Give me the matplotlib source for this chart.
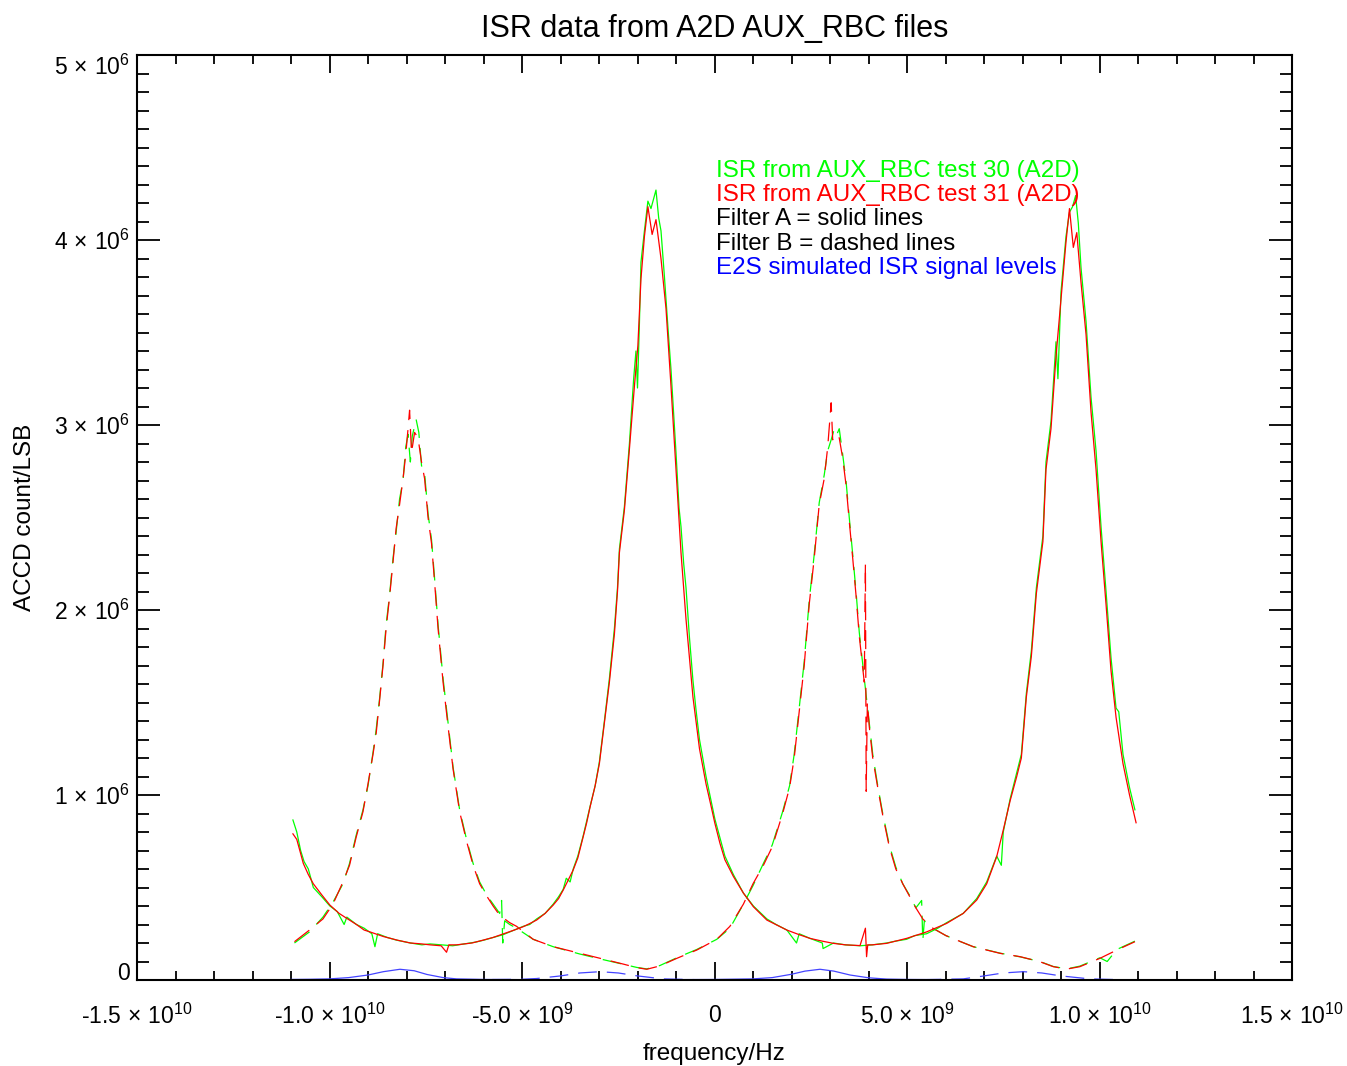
import numpy as np
import matplotlib
matplotlib.use('Agg')
import matplotlib.pyplot as plt
from matplotlib.ticker import MultipleLocator, FixedLocator

plt.rcParams['font.family'] = ['Liberation Sans', 'DejaVu Sans']
plt.rcParams['mathtext.fontset'] = 'custom'
plt.rcParams['mathtext.rm'] = 'Liberation Sans'
plt.rcParams['mathtext.it'] = 'Liberation Sans:italic'
plt.rcParams['mathtext.bf'] = 'Liberation Sans:bold'

# values: (frequency / 1e9 Hz, count / 1e6 LSB)
# Filter A (solid), test 31 (red)
filt_a_test31 = [
    (-10.95, 0.79), (-10.85, 0.76), (-10.68, 0.63), (-10.55, 0.57), (-10.42, 0.52),
    (-10.2, 0.46), (-9.99, 0.405), (-9.75, 0.36), (-9.55, 0.333), (-9.3, 0.30),
    (-9.1, 0.27), (-8.95, 0.26), (-8.6, 0.235), (-8.25, 0.216), (-7.9, 0.20),
    (-7.6, 0.195), (-7.39, 0.19), (-7.1, 0.185), (-6.96, 0.15), (-6.9, 0.19),
    (-6.7, 0.19), (-6.3, 0.20), (-6.0, 0.216), (-5.75, 0.23), (-5.49, 0.249),
    (-5.2, 0.27), (-4.97, 0.288), (-4.8, 0.305), (-4.62, 0.324), (-4.4, 0.36),
    (-4.19, 0.405), (-4.05, 0.44), (-3.93, 0.486), (-3.8, 0.54), (-3.67, 0.595),
    (-3.55, 0.66), (-3.41, 0.775), (-3.32, 0.85), (-3.23, 0.937), (-3.1, 1.05),
    (-2.99, 1.17), (-2.86, 1.39), (-2.73, 1.61), (-2.60, 1.87), (-2.52, 2.10),
    (-2.47, 2.31), (-2.34, 2.54), (-2.21, 2.87), (-2.08, 3.21), (-1.99, 3.43),
    (-1.91, 3.79), (-1.82, 4.02), (-1.73, 4.18), (-1.62, 4.03), (-1.52, 4.11),
    (-1.39, 3.90), (-1.26, 3.63), (-1.13, 3.21), (-1.0, 2.76), (-0.87, 2.31),
    (-0.74, 1.95), (-0.56, 1.53), (-0.39, 1.25), (-0.22, 1.06), (-0.1, 0.95),
    (0.01, 0.847), (0.14, 0.74), (0.27, 0.65), (0.49, 0.56), (0.75, 0.47),
    (1.01, 0.396), (1.36, 0.324), (1.88, 0.27), (2.2, 0.245), (2.48, 0.225),
    (2.8, 0.21), (3.09, 0.198), (3.4, 0.19), (3.78, 0.186), (3.92, 0.28),
    (3.95, 0.126), (3.98, 0.19), (4.1, 0.19), (4.47, 0.198), (4.99, 0.225),
    (5.51, 0.26), (6.03, 0.306), (6.46, 0.36), (6.81, 0.432), (7.07, 0.52),
    (7.33, 0.667), (7.50, 0.81), (7.68, 0.97), (7.85, 1.10), (7.97, 1.20),
    (8.10, 1.53), (8.23, 1.75), (8.36, 2.09), (8.53, 2.37), (8.61, 2.76),
    (8.74, 2.98), (8.87, 3.37), (9.0, 3.68), (9.13, 3.99), (9.22, 4.17),
    (9.32, 3.96), (9.41, 4.04), (9.52, 3.77), (9.65, 3.49), (9.78, 3.07),
    (9.91, 2.76), (10.04, 2.37), (10.17, 2.03), (10.30, 1.67), (10.43, 1.42),
    (10.61, 1.17), (10.78, 1.00), (10.95, 0.85),
]

# Filter A (solid), test 30 (green)
filt_a_test30 = [
    (-10.95, 0.865), (-10.85, 0.80), (-10.75, 0.70), (-10.66, 0.64), (-10.55, 0.60),
    (-10.42, 0.50), (-10.2, 0.45), (-9.99, 0.40), (-9.8, 0.37), (-9.62, 0.30),
    (-9.55, 0.34), (-9.3, 0.30), (-9.1, 0.28), (-8.9, 0.25), (-8.82, 0.18),
    (-8.75, 0.25), (-8.5, 0.23), (-8.25, 0.215), (-7.9, 0.20), (-7.6, 0.19),
    (-7.39, 0.195), (-7.1, 0.19), (-6.8, 0.185), (-6.5, 0.195), (-6.2, 0.205),
    (-6.0, 0.215), (-5.75, 0.23), (-5.49, 0.245), (-5.2, 0.27), (-4.97, 0.29),
    (-4.8, 0.30), (-4.62, 0.33), (-4.4, 0.36), (-4.19, 0.41), (-4.05, 0.45),
    (-3.93, 0.49), (-3.85, 0.55), (-3.75, 0.53), (-3.67, 0.60), (-3.55, 0.67),
    (-3.41, 0.78), (-3.32, 0.86), (-3.23, 0.94), (-3.1, 1.05), (-2.99, 1.18),
    (-2.86, 1.40), (-2.73, 1.63), (-2.60, 1.90), (-2.52, 2.12), (-2.47, 2.33),
    (-2.34, 2.56), (-2.21, 2.90), (-2.1, 3.25), (-2.04, 3.40), (-2.0, 3.20),
    (-1.95, 3.55), (-1.91, 3.88), (-1.82, 4.05), (-1.73, 4.21), (-1.65, 4.17),
    (-1.52, 4.27), (-1.45, 4.12), (-1.39, 4.05), (-1.30, 3.80), (-1.2, 3.50),
    (-1.13, 3.30), (-1.0, 2.85), (-0.92, 2.55), (-0.87, 2.45), (-0.8, 2.25),
    (-0.74, 2.12), (-0.65, 1.85), (-0.56, 1.62), (-0.48, 1.46), (-0.39, 1.30),
    (-0.22, 1.10), (-0.1, 0.98), (0.01, 0.87), (0.14, 0.77), (0.27, 0.67),
    (0.49, 0.57), (0.75, 0.47), (1.01, 0.40), (1.36, 0.33), (1.6, 0.30),
    (1.88, 0.27), (2.13, 0.20), (2.2, 0.25), (2.48, 0.225), (2.8, 0.20),
    (2.82, 0.17), (3.09, 0.20), (3.4, 0.19), (3.78, 0.185), (4.1, 0.19),
    (4.47, 0.20), (4.7, 0.21), (4.99, 0.22), (5.2, 0.24), (5.51, 0.25),
    (5.8, 0.28), (6.03, 0.31), (6.46, 0.36), (6.81, 0.44), (7.07, 0.53),
    (7.33, 0.67), (7.45, 0.62), (7.50, 0.80), (7.68, 0.98), (7.85, 1.12),
    (7.97, 1.22), (8.10, 1.55), (8.23, 1.78), (8.36, 2.12), (8.53, 2.40),
    (8.61, 2.80), (8.74, 3.02), (8.87, 3.45), (8.92, 3.25), (9.0, 3.72),
    (9.13, 4.02), (9.22, 4.15), (9.30, 4.18), (9.38, 4.24), (9.45, 4.09),
    (9.52, 3.85), (9.65, 3.56), (9.78, 3.15), (9.91, 2.86), (10.04, 2.45),
    (10.17, 2.10), (10.30, 1.74), (10.43, 1.47), (10.5, 1.45), (10.61, 1.22),
    (10.78, 1.04), (10.92, 0.92),
]

# Filter B (dashed), test 31 (red)
filt_b_test31 = [
    (-10.91, 0.207), (-10.52, 0.27), (-10.17, 0.33), (-9.91, 0.41), (-9.65, 0.53),
    (-9.48, 0.62), (-9.31, 0.77), (-9.13, 0.91), (-9.0, 1.06), (-8.87, 1.22),
    (-8.79, 1.33), (-8.70, 1.51), (-8.61, 1.70), (-8.53, 1.90), (-8.44, 2.07),
    (-8.35, 2.26), (-8.27, 2.44), (-8.18, 2.57), (-8.09, 2.71), (-8.02, 2.84),
    (-7.96, 2.98), (-7.92, 3.08), (-7.87, 2.85), (-7.79, 2.96), (-7.70, 2.93),
    (-7.61, 2.80), (-7.53, 2.71), (-7.44, 2.50), (-7.35, 2.36), (-7.27, 2.15),
    (-7.18, 1.90), (-7.05, 1.61), (-6.92, 1.37), (-6.79, 1.14), (-6.62, 0.91),
    (-6.44, 0.75), (-6.27, 0.62), (-6.10, 0.52), (-5.92, 0.455), (-5.75, 0.40),
    (-5.58, 0.35), (-5.32, 0.31), (-5.14, 0.29), (-4.71, 0.22), (-4.19, 0.18),
    (-3.49, 0.144), (-2.89, 0.113), (-2.37, 0.086), (-2.02, 0.067), (-1.76, 0.058),
    (-1.42, 0.076), (-0.98, 0.117), (-0.46, 0.162), (0.06, 0.22), (0.40, 0.29),
    (0.75, 0.41), (1.0, 0.52), (1.27, 0.62), (1.5, 0.72), (1.77, 0.90),
    (1.95, 1.04), (2.07, 1.20), (2.20, 1.45), (2.33, 1.70), (2.46, 2.03),
    (2.59, 2.28), (2.72, 2.57), (2.85, 2.71), (2.94, 2.88), (3.03, 3.12),
    (3.07, 2.92), (3.16, 2.95), (3.24, 2.93), (3.33, 2.82), (3.42, 2.67),
    (3.50, 2.48), (3.59, 2.28), (3.68, 2.07), (3.76, 1.86), (3.89, 1.61),
    (3.92, 2.25), (3.94, 1.02), (3.97, 1.50), (4.02, 1.37), (4.11, 1.20),
    (4.24, 1.04), (4.37, 0.89), (4.54, 0.72), (4.71, 0.60), (4.89, 0.52),
    (5.06, 0.455), (5.23, 0.39), (5.41, 0.33), (5.67, 0.28), (6.01, 0.24),
    (6.36, 0.21), (6.72, 0.18), (7.42, 0.144), (7.94, 0.126), (8.45, 0.099),
    (8.80, 0.072), (9.15, 0.059), (9.49, 0.072), (10.01, 0.117), (10.45, 0.162),
    (10.92, 0.207),
]

# Filter B (dashed), test 30 (green)
filt_b_test30 = [
    (-10.91, 0.20), (-10.52, 0.26), (-10.17, 0.34), (-9.91, 0.42), (-9.65, 0.52),
    (-9.48, 0.63), (-9.31, 0.78), (-9.13, 0.92), (-9.0, 1.05), (-8.87, 1.23),
    (-8.79, 1.35), (-8.70, 1.52), (-8.61, 1.71), (-8.53, 1.92), (-8.44, 2.08),
    (-8.35, 2.28), (-8.27, 2.42), (-8.18, 2.60), (-8.09, 2.70), (-8.02, 2.88),
    (-7.96, 2.95), (-7.90, 2.80), (-7.85, 2.94), (-7.75, 3.03), (-7.68, 2.96),
    (-7.61, 2.78), (-7.53, 2.74), (-7.44, 2.52), (-7.35, 2.38), (-7.27, 2.17),
    (-7.18, 1.92), (-7.05, 1.63), (-6.92, 1.39), (-6.79, 1.15), (-6.62, 0.92),
    (-6.44, 0.76), (-6.27, 0.63), (-6.10, 0.53), (-5.92, 0.46), (-5.75, 0.41),
    (-5.58, 0.36), (-5.53, 0.43), (-5.50, 0.20), (-5.45, 0.32), (-5.32, 0.30),
    (-5.14, 0.28), (-4.71, 0.22), (-4.19, 0.18), (-3.49, 0.14), (-2.89, 0.11),
    (-2.37, 0.085), (-2.02, 0.068), (-1.76, 0.06), (-1.42, 0.078), (-0.98, 0.12),
    (-0.46, 0.165), (0.06, 0.22), (0.40, 0.28), (0.75, 0.41), (1.0, 0.51),
    (1.27, 0.63), (1.5, 0.73), (1.77, 0.91), (1.95, 1.05), (2.07, 1.22),
    (2.20, 1.47), (2.33, 1.72), (2.46, 2.05), (2.59, 2.30), (2.72, 2.58),
    (2.85, 2.73), (2.94, 2.86), (3.03, 2.92), (3.10, 2.97), (3.16, 2.94),
    (3.24, 2.98), (3.33, 2.84), (3.42, 2.69), (3.50, 2.50), (3.59, 2.30),
    (3.68, 2.09), (3.76, 1.88), (3.89, 1.63), (4.02, 1.39), (4.11, 1.22),
    (4.24, 1.05), (4.37, 0.90), (4.54, 0.73), (4.71, 0.61), (4.89, 0.52),
    (5.06, 0.46), (5.23, 0.39), (5.38, 0.43), (5.41, 0.21), (5.45, 0.32),
    (5.67, 0.28), (6.01, 0.24), (6.36, 0.21), (6.72, 0.18), (7.42, 0.145),
    (7.94, 0.125), (8.45, 0.10), (8.80, 0.073), (9.15, 0.06), (9.49, 0.075),
    (10.01, 0.12), (10.2, 0.10), (10.45, 0.165), (10.92, 0.21),
]

# E2S simulated ISR signal levels (blue)
e2s_filt_a = [
    (-11.0, 0.003), (-10.5, 0.004), (-10.0, 0.006), (-9.5, 0.013), (-9.0, 0.027),
    (-8.6, 0.045), (-8.17, 0.058), (-7.8, 0.050), (-7.47, 0.030), (-7.05, 0.013),
    (-6.7, 0.006), (-6.0, 0.003), (-5.0, 0.002), (-3.0, 0.002), (-1.0, 0.002),
    (0.0, 0.003), (1.0, 0.006), (1.5, 0.013), (2.0, 0.031), (2.35, 0.048),
    (2.74, 0.058), (3.1, 0.048), (3.52, 0.027), (4.0, 0.012), (4.47, 0.005),
    (5.0, 0.003), (6.0, 0.002), (8.0, 0.002), (10.0, 0.002), (11.0, 0.002),
]
e2s_filt_b = [
    (-11.0, 0.002), (-6.0, 0.002), (-5.0, 0.004), (-4.62, 0.008), (-4.0, 0.022),
    (-3.5, 0.038), (-2.97, 0.045), (-2.5, 0.038), (-2.0, 0.022), (-1.34, 0.006),
    (-0.5, 0.002), (5.5, 0.002), (6.46, 0.006), (7.0, 0.022), (7.5, 0.038),
    (8.02, 0.045), (8.5, 0.038), (9.0, 0.022), (9.75, 0.006), (10.5, 0.002),
    (11.0, 0.002),
]

x_ticks = [-1.5e10, -1.0e10, -5.0e9, 0, 5.0e9, 1.0e10, 1.5e10]
x_tick_labels = [r'-1.5$\,\times\,$10$^{10}$', r'-1.0$\,\times\,$10$^{10}$',
                 r'-5.0$\,\times\,$10$^{9}$', '0', r'5.0$\,\times\,$10$^{9}$',
                 r'1.0$\,\times\,$10$^{10}$', r'1.5$\,\times\,$10$^{10}$']
y_ticks = [0, 1e6, 2e6, 3e6, 4e6, 5e6]
y_tick_labels = ['0', r'1$\,\times\,$10$^{6}$', r'2$\,\times\,$10$^{6}$',
                 r'3$\,\times\,$10$^{6}$', r'4$\,\times\,$10$^{6}$', r'5$\,\times\,$10$^{6}$']

legend_lines = [
    ('ISR from AUX_RBC test 30 (A2D)', '#00ff00'),
    ('ISR from AUX_RBC test 31 (A2D)', '#ff0000'),
    ('Filter A = solid lines', 'black'),
    ('Filter B = dashed lines', 'black'),
    ('E2S simulated ISR signal levels', '#0000ff'),
]


def xy(pairs):
    a = np.array(pairs)
    return a[:, 0] * 1e9, a[:, 1] * 1e6


fig = plt.figure(figsize=(13.47, 10.66), dpi=100, facecolor='white')
ax = fig.add_axes([137 / 1347, 1 - 980 / 1066, 1155 / 1347, 925 / 1066])

dash = (0, (15, 8))
ax.plot(*xy(e2s_filt_a), color='#4444ff', lw=0.9)
ax.plot(*xy(e2s_filt_b), color='#4444ff', lw=0.9, ls=dash)
ax.plot(*xy(filt_b_test30), color='#00ff00', lw=0.9, ls=dash)
ax.plot(*xy(filt_b_test31), color='#ff0000', lw=0.9, ls=dash)
ax.plot(*xy(filt_a_test30), color='#00ff00', lw=0.9)
ax.plot(*xy(filt_a_test31), color='#ff0000', lw=0.9)

ax.set_xlim(-1.5e10, 1.5e10)
ax.set_ylim(0, 5e6)
ax.xaxis.set_major_locator(FixedLocator(x_ticks))
ax.set_xticklabels(x_tick_labels)
ax.xaxis.set_minor_locator(MultipleLocator(1e9))
ax.yaxis.set_major_locator(FixedLocator(y_ticks))
ax.set_yticklabels(y_tick_labels)
ax.yaxis.set_minor_locator(MultipleLocator(1e5))

ax.tick_params(axis='x', which='major', direction='in', length=13.3, width=1.3,
               top=True, labelsize=16.5, pad=17)
ax.tick_params(axis='x', which='minor', direction='in', length=6.7, width=1.3, top=True)
ax.tick_params(axis='y', which='major', direction='in', length=16.6, width=1.3,
               right=True, labelsize=16.5, pad=5)
ax.tick_params(axis='y', which='minor', direction='in', length=8.3, width=1.3, right=True)
for s in ax.spines.values():
    s.set_linewidth(1.5)

ylabs = ax.get_yticklabels()
ylabs[0].set_verticalalignment('baseline')
ylabs[-1].set_verticalalignment('top')

ax.set_xlabel('frequency/Hz', fontsize=17.5, labelpad=10)
ax.set_ylabel('ACCD count/LSB', fontsize=17.5, labelpad=13)
ax.set_title('ISR data from A2D AUX_RBC files', fontsize=22, pad=13)

for i, (txt, col) in enumerate(legend_lines):
    ax.text(0.501, 0.8746 - i * 0.0262, txt, color=col, fontsize=17.4,
            transform=ax.transAxes, ha='left', va='center')

fig.savefig('out.png', dpi=100, facecolor='white')
